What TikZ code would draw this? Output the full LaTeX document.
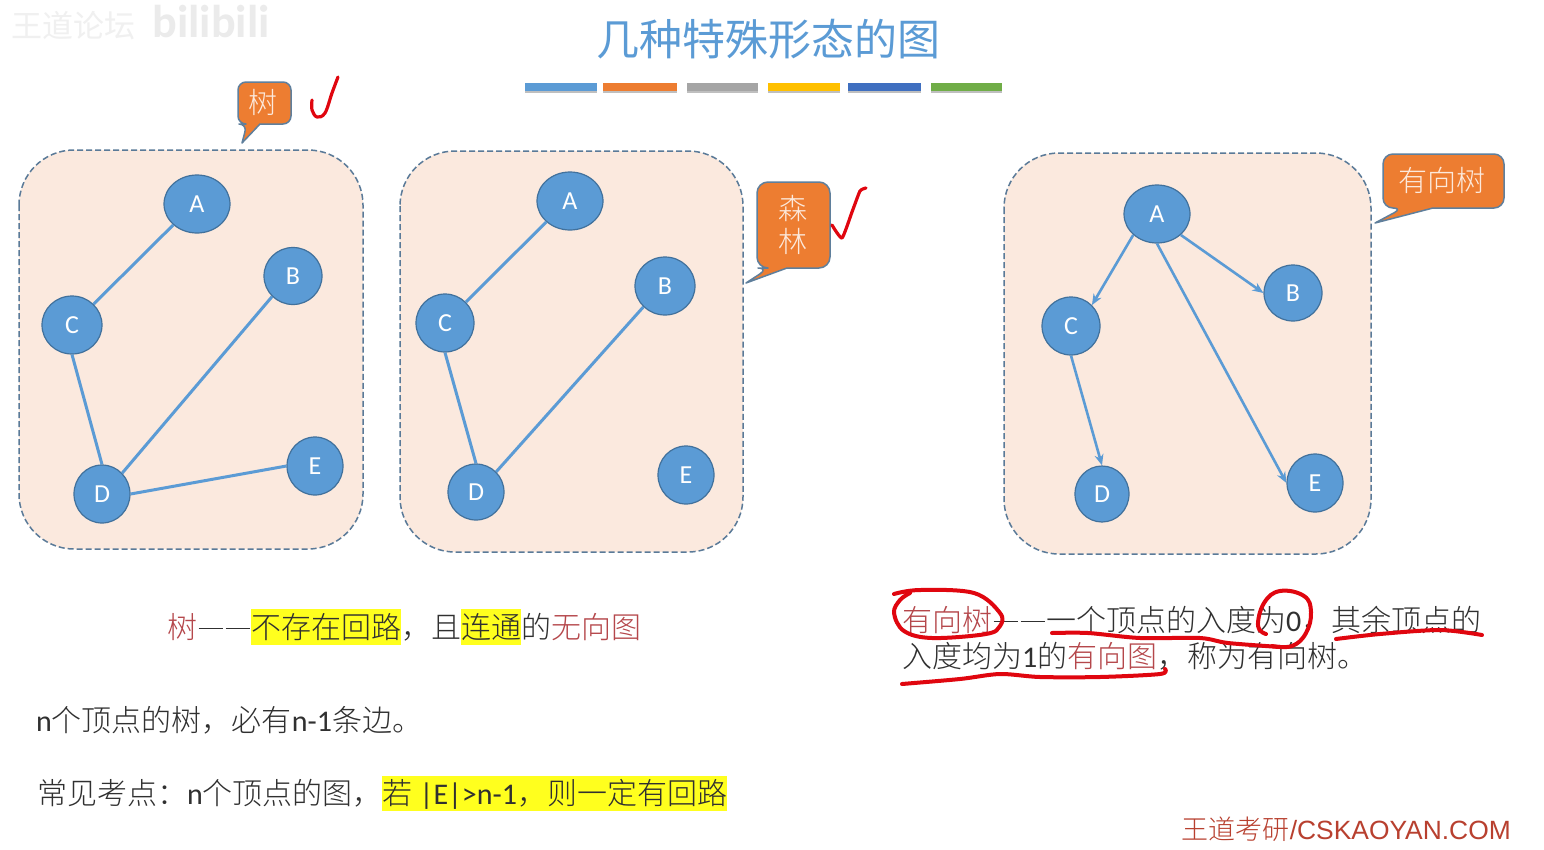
\documentclass[tikz,border=0pt]{standalone}
\usepackage{fontspec}
\usetikzlibrary{shapes.geometric,arrows.meta}
\setmainfont{Noto Sans CJK SC}[UprightFont=* Light]
\newfontfamily\titlefont{Noto Sans CJK SC}
\newfontfamily\latfont{Carlito}
\newfontfamily\footlat{Liberation Sans}
\newcommand{\lat}[1]{{\latfont #1}}
\newcommand{\fsz}[1]{\fontsize{#1}{#1}\selectfont}
\newcommand{\twodash}{\makebox[54pt]{\rule[9pt]{24pt}{1.6pt}\hspace{3pt}\rule[9pt]{24pt}{1.6pt}}}
\definecolor{nodeblue}{HTML}{5B9BD5}
\definecolor{nodeedge}{HTML}{41719C}
\definecolor{panelfill}{HTML}{FBE9DE}
\definecolor{paneledge}{HTML}{5A7A98}
\definecolor{calloutfill}{HTML}{ED7D31}
\definecolor{calloutedge}{HTML}{5F7F9C}
\definecolor{calloutfg}{HTML}{FCE9DC}
\definecolor{termred}{HTML}{B5474B}
\definecolor{inkred}{HTML}{E0060F}
\definecolor{bodytxt}{HTML}{303030}
\definecolor{hl}{HTML}{FFFF1E}
\definecolor{footred}{HTML}{B8402F}
\tikzset{
  panel/.style={draw=paneledge,fill=panelfill,line width=1.5pt,dash pattern=on 6pt off 3pt,rounded corners=55pt},
  gnode/.style={ellipse,draw=nodeedge,fill=nodeblue,line width=1.2pt,inner sep=0pt,text=white,font=\latfont\fsz{26}},
  gedge/.style={draw=nodeblue,line width=3pt},
  garrow/.style={gedge,line width=2.6pt,-{Stealth[length=11pt,width=9pt]}},
  callout/.style={draw=calloutedge,fill=calloutfill,line width=1.5pt,line join=round},
  calltext/.style={text=calloutfg,inner sep=0pt,font=\fsz{29}},
  txt/.style={anchor=west,inner sep=0pt,text=bodytxt,font=\fsz{30},text height=26.4pt,text depth=3.6pt},
  ink/.style={draw=inkred,line width=4pt,line cap=round,line join=round},
}
\begin{document}
\begin{tikzpicture}[x=1pt,y=-1pt]
\useasboundingbox (0,0) rectangle (1544,849);
\fill[white] (0,0) rectangle (1544,849);
% watermark
\node[inner sep=0pt,text=black!6,font=\titlefont\fsz{31}] (wm1) at (73,26) {王道论坛};
\node[inner sep=0pt,text=black!8,font=\latfont\bfseries\fsz{46}] (wm2) at (211,22) {bilibili};
% title
\node[inner sep=0pt,text=nodeblue,font=\titlefont\fsz{43}] (title) at (768,39) {几种特殊形态的图};
% bars
\foreach \a/\b/\c in {525/597/5B9BD5,603/677/ED7D31,687/758/A5A5A5,768/840/FFC000,848/921/3F6FC0,931/1002/70AD47}{
  \fill[black!25] (\a,90) rectangle (\b,93);
  \definecolor{barc}{HTML}{\c}
  \fill[barc] (\a,83) rectangle (\b,90.5);
}
% panels
\draw[panel] (19,150) rectangle (363,549);
\draw[panel] (400,151) rectangle (743,552);
\draw[panel] (1004,153) rectangle (1371,554);
% panel 1
\node[gnode,minimum width=66pt,minimum height=58pt] (a1) at (197,204) {A};
\node[gnode,minimum width=58pt,minimum height=57pt] (b1) at (293,276) {B};
\node[gnode,minimum width=60pt,minimum height=58pt] (c1) at (72,325) {C};
\node[gnode,minimum width=56pt,minimum height=58pt] (d1) at (102,494) {D};
\node[gnode,minimum width=56pt,minimum height=58pt] (e1) at (315,466) {E};
\draw[gedge] (a1.south west) -- (c1.north east);
\draw[gedge] (c1.south) -- (d1.north);
\draw[gedge] (b1.south west) -- (d1.north east);
\draw[gedge] (d1.east) -- (e1.west);
% panel 2
\node[gnode,minimum width=66pt,minimum height=58pt] (a2) at (570,201) {A};
\node[gnode,minimum width=60pt,minimum height=58pt] (b2) at (665,286) {B};
\node[gnode,minimum width=58pt,minimum height=58pt] (c2) at (445,323) {C};
\node[gnode,minimum width=56pt,minimum height=56pt] (d2) at (476,492) {D};
\node[gnode,minimum width=56pt,minimum height=58pt] (e2) at (686,475) {E};
\draw[gedge] (a2.south west) -- (c2.north east);
\draw[gedge] (c2.south) -- (d2.north);
\draw[gedge] (b2.south west) -- (d2.north east);
% panel 3
\node[gnode,minimum width=66pt,minimum height=58pt] (a3) at (1157,214) {A};
\node[gnode,minimum width=58pt,minimum height=56pt] (b3) at (1293,293) {B};
\node[gnode,minimum width=58pt,minimum height=58pt] (c3) at (1071,326) {C};
\node[gnode,minimum width=54pt,minimum height=56pt] (d3) at (1102,494) {D};
\node[gnode,minimum width=56pt,minimum height=58pt] (e3) at (1315,483) {E};
\draw[garrow] (a3.south west) -- (c3.north east);
\draw[garrow] (a3.south east) -- (b3.west);
\draw[garrow] (a3.south) -- (e3.west);
\draw[garrow] (c3.south) -- (d3.north);
% callouts
\draw[callout] (260,124) [rounded corners=8pt] -- (291,124) -- (291,82) -- (238,82) -- (238,124) -- (247,124) [sharp corners] -- (242,143) -- cycle;
\node[calltext] (t1) at (263,102) {树};
\draw[callout] (787,268) [rounded corners=11pt] -- (830,268) -- (830,182) -- (757,182) -- (757,268) -- (769,268) [sharp corners] -- (746,283) -- cycle;
\node[calltext,align=center] (t2) at (793,225) {森\\[4pt]林};
\draw[callout] (1433,208) [rounded corners=10pt] -- (1504,208) -- (1504,154) -- (1383,154) -- (1383,208) -- (1403,208) [sharp corners] -- (1375,223) -- cycle;
\node[calltext] (t3) at (1442,180) {有向树};
% check marks
\draw[ink,line width=3.2pt] plot[smooth,tension=.6] coordinates {(312,100) (312,110) (317,117) (325,113) (332,93) (338,77)};
\draw[ink,line width=3.2pt] plot[smooth,tension=.3] coordinates {(832,225) (842,238) (852,212) (860,191) (866,188)};
% highlights
\fill[hl] (251,609) rectangle (401,645);
\fill[hl] (461,609) rectangle (521,645);
\fill[hl] (382,776) rectangle (727,811);
% left text
\node[txt] (l1) at (167,627) {\textcolor{termred}{树}\twodash{}不存在回路，且连通的\textcolor{termred}{无向图}};
\node[txt] (l2) at (36,720) {\lat{n}个顶点的树，必有\lat{n-1}条边。};
\node[txt] (l3) at (37,793) {常见考点：\lat{n}个顶点的图，若\lat{\ |E|>n-1}，则一定有回路};
% right text
\node[txt] (r1) at (902,620) {\textcolor{termred}{有向树}\twodash{}一个顶点的入度为\lat{0}，其余顶点的};
\node[txt] (r2) at (902,656) {入度均为\lat{1}的\textcolor{termred}{有向图}，称为有向树。};
% footer
\node[anchor=east,inner sep=0pt,text=footred,font=\fsz{27}] (foot) at (1511,829) {王道考研{\footlat\fsz{26.4}/CSKAOYAN.COM}};
% red ink
\draw[ink] plot[smooth,tension=.6] coordinates {(894,594) (920,590) (974,593) (1000,613) (1000,626) (986,634) (932,638) (904,631) (894,613) (900,600) (910,593)};
\draw[ink] plot[smooth,tension=.5] coordinates {(1052,633) (1088,633) (1140,638) (1200,638) (1228,643) (1280,647)};
\draw[ink] plot[smooth,tension=.7] coordinates {(1266,634) (1258,626) (1264,603) (1280,591) (1304,596) (1311,612) (1306,633) (1292,646) (1272,646)};
\draw[ink] plot[smooth,tension=.5] coordinates {(1336,639) (1380,634) (1440,630) (1482,635)};
\draw[ink] plot[smooth,tension=.5] coordinates {(902,684) (960,679) (1000,674) (1040,677) (1100,677) (1160,674) (1165,669)};
\end{tikzpicture}
\end{document}
